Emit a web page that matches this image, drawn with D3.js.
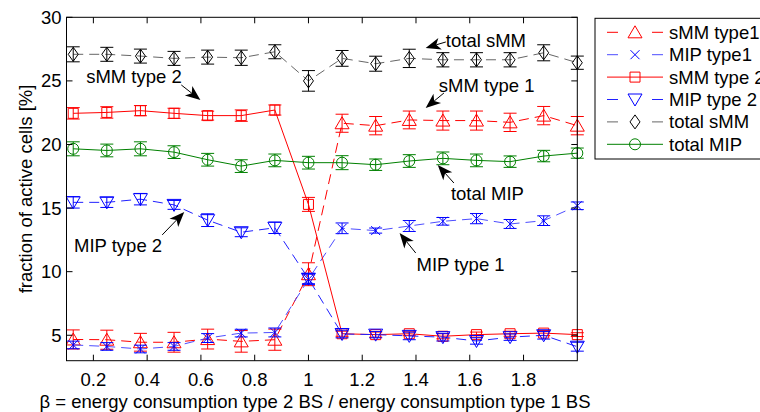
<!DOCTYPE html>
<html>
<head>
<meta charset="utf-8">
<script src="https://cdn.jsdelivr.net/npm/d3@7"></script>
<style>
  body { margin: 0; background: #fff; }
  svg { display: block; font-family: "Liberation Sans", Arial, sans-serif; }
</style>
</head>
<body>
<div id="chart"></div>
<script>
// beta values (x)
const beta = [0.125, 0.25, 0.375, 0.5, 0.625, 0.75, 0.875, 1.0,
              1.125, 1.25, 1.375, 1.5, 1.625, 1.75, 1.875, 2.0];

// series values and error half-widths
const sMMType1    = [4.67, 4.65, 4.45, 4.45, 4.7, 4.52, 4.65, 9.8, 21.67, 21.48, 21.93, 21.88, 21.88, 21.74, 22.27, 21.48];
const sMMType1Err = [0.75, 0.75, 0.7, 0.78, 0.78, 0.85, 0.83, 0.9, 0.71, 0.72, 0.7, 0.75, 0.75, 0.72, 0.72, 0.72];

const mipType1    = [4.24, 4.12, 3.92, 4.12, 4.78, 5.17, 5.22, 9.4, 13.41, 13.23, 13.59, 13.96, 14.17, 13.75, 14.01, 15.18];
const mipType1Err = [0.3, 0.3, 0.3, 0.3, 0.35, 0.3, 0.35, 0.4, 0.42, 0.2, 0.43, 0.3, 0.4, 0.35, 0.38, 0.3];

const sMMType2    = [22.45, 22.52, 22.66, 22.45, 22.27, 22.27, 22.71, 15.29, 5.12, 5.05, 5.12, 4.92, 5.05, 5.12, 5.17, 5.05];
const sMMType2Err = [0.45, 0.45, 0.4, 0.4, 0.35, 0.45, 0.4, 0.55, 0.2, 0.2, 0.15, 0.2, 0.2, 0.2, 0.2, 0.15];

const mipType2    = [15.45, 15.45, 15.7, 15.25, 14.05, 13.1, 13.45, 9.45, 5.1, 5.05, 4.95, 4.85, 4.55, 4.85, 5.0, 4.1];
const mipType2Err = [0.45, 0.4, 0.45, 0.35, 0.5, 0.35, 0.45, 0.4, 0.3, 0.25, 0.3, 0.3, 0.25, 0.25, 0.3, 0.35];

const totalSMM    = [27.09, 27.09, 26.95, 26.77, 26.87, 26.82, 27.29, 25.0, 26.77, 26.35, 26.77, 26.66, 26.66, 26.66, 27.21, 26.43];
const totalSMMErr = [0.59, 0.55, 0.55, 0.55, 0.55, 0.6, 0.55, 0.81, 0.62, 0.59, 0.72, 0.56, 0.56, 0.56, 0.63, 0.52];

const totalMIP    = [19.66, 19.53, 19.66, 19.40, 18.80, 18.30, 18.75, 18.57, 18.57, 18.41, 18.70, 18.91, 18.75, 18.65, 19.09, 19.32];
const totalMIPErr = [0.55, 0.5, 0.55, 0.5, 0.5, 0.5, 0.5, 0.5, 0.55, 0.45, 0.5, 0.5, 0.5, 0.45, 0.45, 0.4];

const seriesNames = ['sMM type1', 'MIP type1', 'sMM type 2', 'MIP type 2', 'total sMM', 'total MIP'];

const xTicks = [0.2, 0.4, 0.6, 0.8, 1.0, 1.2, 1.4, 1.6, 1.8];
const yTicks = [5, 10, 15, 20, 25, 30];

// annotations in data coordinates: text anchor, arrow tail, arrow tip
const notes = [
  { text: 'total sMM',  tx: 1.511, ty: 27.66, from: [1.511, 28.06], to: [1.436, 27.59] },
  { text: 'sMM type 1', tx: 1.485, ty: 24.13, from: [1.504, 24.05], to: [1.436, 22.87] },
  { text: 'total MIP',  tx: 1.530, ty: 15.64, from: [1.541, 16.97], to: [1.481, 18.39] },
  { text: 'sMM type 2', tx: 0.173, ty: 24.83, from: [0.527, 24.68], to: [0.598, 23.50] },
  { text: 'MIP type 2', tx: 0.128, ty: 11.55, from: [0.456, 12.89], to: [0.538, 14.69] },
  { text: 'MIP type 1', tx: 1.402, ty: 10.06, from: [1.399, 11.47], to: [1.339, 13.04] }
];

{
  const W = 760, H = 412;
  const left = 66.5, right = 577.3, top = 17.3, bottom = 360.7;
  const fontSize = 18.5;

  const svg = d3.select('#chart').append('svg')
    .attr('width', W).attr('height', H)
    .attr('viewBox', `0 0 ${W} ${H}`);
  svg.append('rect').attr('width', W).attr('height', H).attr('fill', '#fff');

  const x = d3.scaleLinear().domain([0.1, 2.0]).range([left, right]);
  const y = d3.scaleLinear().domain([3, 30]).range([bottom, top]);

  // marker shapes
  const markers = {
    tri:  'M0,-6.5L7,5.5L-7,5.5Z',
    triv: 'M0,6.5L7,-5.5L-7,-5.5Z',
    sq:   'M-5,-5H5V5H-5Z',
    dia:  'M0,-7L5,0L0,7L-5,0Z',
    circ: d3.symbol(d3.symbolCircle, Math.PI * 5.5 * 5.5)(),
    x:    'M-4.5,-4.5L4.5,4.5M-4.5,4.5L4.5,-4.5'
  };

  const series = [
    { name: seriesNames[0], v: sMMType1, e: sMMType1Err, color: '#ff0000', line: '#ff0000', dash: '10,6', mk: 'tri' },
    { name: seriesNames[1], v: mipType1, e: mipType1Err, color: '#0000ff', line: '#4d4dff', dash: '10,6', mk: 'x' },
    { name: seriesNames[2], v: sMMType2, e: sMMType2Err, color: '#ff0000', line: '#ff0000', dash: null, mk: 'sq' },
    { name: seriesNames[3], v: mipType2, e: mipType2Err, color: '#0000ff', line: '#2020ff', dash: '10,6', mk: 'triv' },
    { name: seriesNames[4], v: totalSMM, e: totalSMMErr, color: '#000000', line: '#666666', dash: '10,6', mk: 'dia' },
    { name: seriesNames[5], v: totalMIP, e: totalMIPErr, color: '#008000', line: '#008000', dash: null, mk: 'circ' }
  ];

  const plot = svg.append('g');
  const line = d3.line().x(d => x(d[0])).y(d => y(d[1]));
  const cap = 6.5;

  series.forEach(s => {
    const pts = beta.map((b, i) => [b, s.v[i], s.e[i]]);
    const g = plot.append('g');

    g.append('path')
      .attr('d', line(pts))
      .attr('fill', 'none')
      .attr('stroke', s.line)
      .attr('stroke-width', 1)
      .attr('stroke-dasharray', s.dash);

    // error bars
    g.selectAll('.eb').data(pts).enter().append('path')
      .attr('d', d => {
        const cx = x(d[0]), y1 = y(d[1] + d[2]), y2 = y(d[1] - d[2]);
        return `M${cx},${y1}V${y2}M${cx - cap},${y1}H${cx + cap}M${cx - cap},${y2}H${cx + cap}`;
      })
      .attr('fill', 'none')
      .attr('stroke', s.color)
      .attr('stroke-width', 1);

    g.selectAll('.mk').data(pts).enter().append('path')
      .attr('d', markers[s.mk])
      .attr('transform', d => `translate(${x(d[0])},${y(d[1])})`)
      .attr('fill', 'none')
      .attr('stroke', s.color)
      .attr('stroke-width', 1);
  });

  // axes box with inward ticks on all sides
  const axes = svg.append('g').attr('stroke', '#000').attr('stroke-width', 1);
  axes.append('rect')
    .attr('x', left).attr('y', top)
    .attr('width', right - left).attr('height', bottom - top)
    .attr('fill', 'none');
  const tl = 6;
  xTicks.forEach(t => {
    axes.append('line').attr('x1', x(t)).attr('x2', x(t)).attr('y1', bottom).attr('y2', bottom - tl);
    axes.append('line').attr('x1', x(t)).attr('x2', x(t)).attr('y1', top).attr('y2', top + tl);
  });
  yTicks.forEach(t => {
    axes.append('line').attr('x1', left).attr('x2', left + tl).attr('y1', y(t)).attr('y2', y(t));
    axes.append('line').attr('x1', right).attr('x2', right - tl).attr('y1', y(t)).attr('y2', y(t));
  });

  const labels = svg.append('g').attr('font-size', fontSize).attr('fill', '#000');
  labels.selectAll('.xt').data(xTicks).enter().append('text')
    .attr('x', d => x(d)).attr('y', bottom + 25)
    .attr('text-anchor', 'middle')
    .text(d => d3.format('~g')(d));
  labels.selectAll('.yt').data(yTicks).enter().append('text')
    .attr('x', left - 5).attr('y', d => y(d))
    .attr('dy', '0.35em')
    .attr('text-anchor', 'end')
    .text(d => d);

  labels.append('text')
    .attr('x', 315).attr('y', 407.5)
    .attr('text-anchor', 'middle')
    .text('\u03b2 = energy consumption type 2 BS / energy consumption type 1 BS');
  labels.append('text')
    .attr('transform', `translate(32, ${(top + bottom) / 2}) rotate(-90)`)
    .attr('text-anchor', 'middle')
    .text('fraction of active cells [%]');

  // annotations with arrows
  const ann = svg.append('g');
  notes.forEach(n => {
    ann.append('text')
      .attr('x', x(n.tx)).attr('y', y(n.ty))
      .attr('font-size', fontSize)
      .text(n.text);
    const x0 = x(n.from[0]), y0 = y(n.from[1]), x1 = x(n.to[0]), y1 = y(n.to[1]);
    const len = Math.hypot(x1 - x0, y1 - y0);
    const ux = (x1 - x0) / len, uy = (y1 - y0) / len;
    const px = -uy, py = ux;
    const L = 15, hw = 6, notch = 4;
    const bx = x1 - L * ux, by = y1 - L * uy;
    const nx = x1 - (L - notch) * ux, ny = y1 - (L - notch) * uy;
    ann.append('line')
      .attr('x1', x0).attr('y1', y0).attr('x2', nx).attr('y2', ny)
      .attr('stroke', '#000').attr('stroke-width', 1);
    ann.append('path')
      .attr('d', `M${x1},${y1}L${bx + hw * px},${by + hw * py}L${nx},${ny}L${bx - hw * px},${by - hw * py}Z`)
      .attr('fill', '#000');
  });

  // legend
  const lg = svg.append('g');
  const lgLeft = 595, lgTop = 18.3, lgBottom = 159;
  lg.append('rect')
    .attr('x', lgLeft).attr('y', lgTop)
    .attr('width', 185).attr('height', lgBottom - lgTop)
    .attr('fill', '#fff').attr('stroke', '#000').attr('stroke-width', 1);
  series.forEach((s, i) => {
    const cy = 32.3 + i * 22.4;
    lg.append('line')
      .attr('x1', 607).attr('x2', 663).attr('y1', cy).attr('y2', cy)
      .attr('stroke', s.line).attr('stroke-width', 1)
      .attr('stroke-dasharray', s.dash ? '11,34' : null);
    lg.append('path')
      .attr('d', markers[s.mk])
      .attr('transform', `translate(635,${cy})`)
      .attr('fill', 'none').attr('stroke', s.color).attr('stroke-width', 1);
    lg.append('text')
      .attr('x', 669).attr('y', cy).attr('dy', '0.35em')
      .attr('font-size', fontSize)
      .text(s.name);
  });
}
</script>
</body>
</html>
